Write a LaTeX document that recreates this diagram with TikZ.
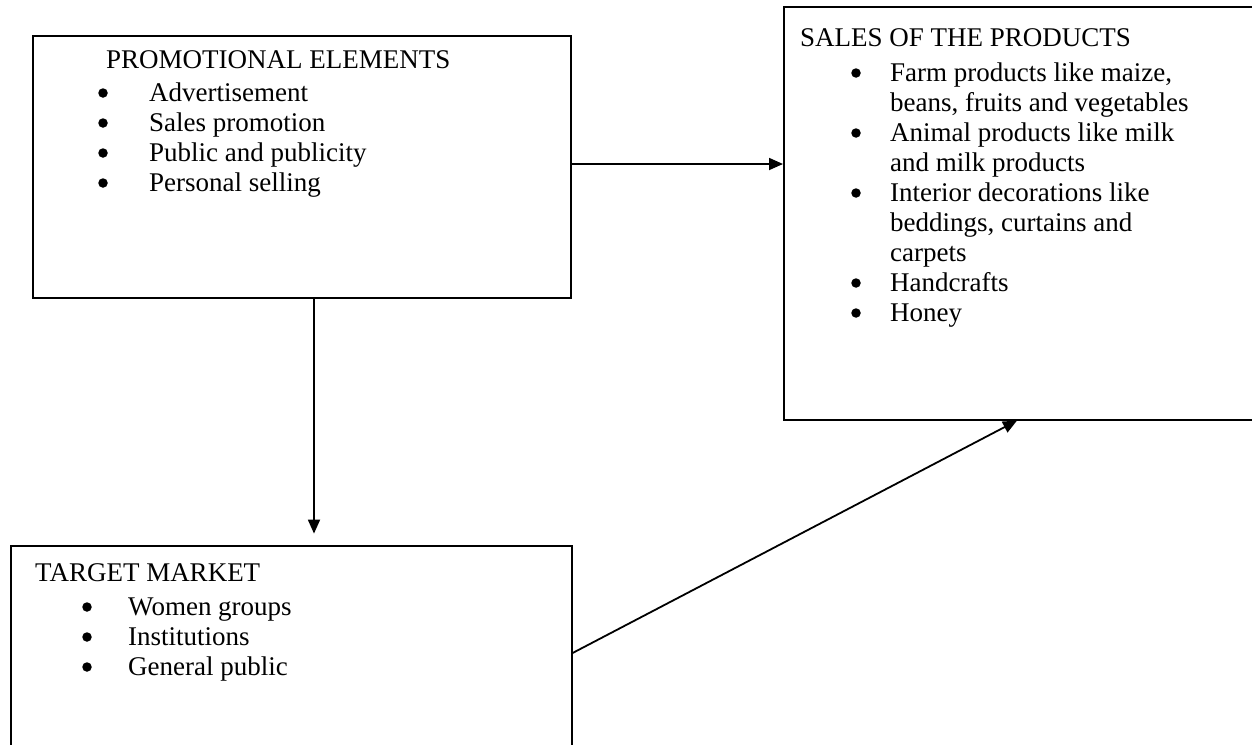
\documentclass[tikz,border=0pt]{standalone}
\usepackage{fontspec}
\setmainfont{Liberation Serif}
\usetikzlibrary{arrows.meta,calc}
\tikzset{
  box/.style={draw, line width=1.6pt, inner sep=0pt, anchor=north west},
  entry/.style={anchor=base west, inner sep=0pt, font=\fontsize{27}{30}\selectfont},
  dot/.style={circle, fill, inner sep=0pt, minimum size=9.5pt},
  link/.style={line width=1.8pt, -{Triangle[length=14pt,width=12pt]}}
}

\begin{document}
\begin{tikzpicture}[x=1pt,y=-1pt]
		%%%%% START %%%%%
		\useasboundingbox (0,0) rectangle (1252,744);
		\clip (0,0) rectangle (1252,744);
		
		% boxes
		\node[box, minimum width=538pt, minimum height=262pt] (promo) at (32, 35) {};
		\node[box, minimum width=480pt, minimum height=413pt] (sales) at (783, 6) {};
		\node[box, minimum width=561pt, minimum height=215pt] (target) at (10, 545) {};
		
		% promotional elements
		\node[entry] (promotitle) at (106, 68) {PROMOTIONAL ELEMENTS};
		\foreach \txt [count=\i] in {Advertisement, Sales promotion, Public and publicity, Personal selling}{
			\node[dot] (promobul\i) at (103, 63+30*\i) {};
			\node[entry] (promoitem\i) at (149, 71+30*\i) {\txt};
		}
		
		% sales of the products
		\node[entry] (salestitle) at (800, 46) {SALES OF THE PRODUCTS};
		\node[dot] (salesbul1) at (856, 73) {};
		\node[entry] (salesitem1) at (890, 81) {Farm products like maize,};
		\node[entry] (salesitem1b) at (890, 111) {beans, fruits and vegetables};
		\node[dot] (salesbul2) at (856, 133) {};
		\node[entry] (salesitem2) at (890, 141) {Animal products like milk};
		\node[entry] (salesitem2b) at (890, 171) {and milk products};
		\node[dot] (salesbul3) at (856, 193) {};
		\node[entry] (salesitem3) at (890, 201) {Interior decorations like};
		\node[entry] (salesitem3b) at (890, 231) {beddings, curtains and};
		\node[entry] (salesitem3c) at (890, 261) {carpets};
		\node[dot] (salesbul4) at (856, 283) {};
		\node[entry] (salesitem4) at (890, 291) {Handcrafts};
		\node[dot] (salesbul5) at (856, 313) {};
		\node[entry] (salesitem5) at (890, 321) {Honey};
		
		% target market
		\node[entry] (targettitle) at (35, 581) {TARGET MARKET};
		\foreach \txt [count=\i] in {Women groups, Institutions, General public}{
			\node[dot] (targetbul\i) at (87, 577+30*\i) {};
			\node[entry] (targetitem\i) at (128, 585+30*\i) {\txt};
		}
		
		% connectors
		\coordinate (promoout) at ($(promo.south west)+(282,0)$);
		\coordinate (targetin) at ($(promoout)+(0,235)$);
		\coordinate (targetout) at ($(target.north east)+(0,108)$);
		\coordinate (salesin) at ($(sales.south west)+(234,0)$);
		
		\draw[link] (promo.east |- 0,164) -- (sales.west |- 0,164);
		\draw[link] (promoout) -- (targetin);
		\draw[link] (targetout) -- (salesin);
		
		%%%%% END %%%%%
\end{tikzpicture}
\end{document}
